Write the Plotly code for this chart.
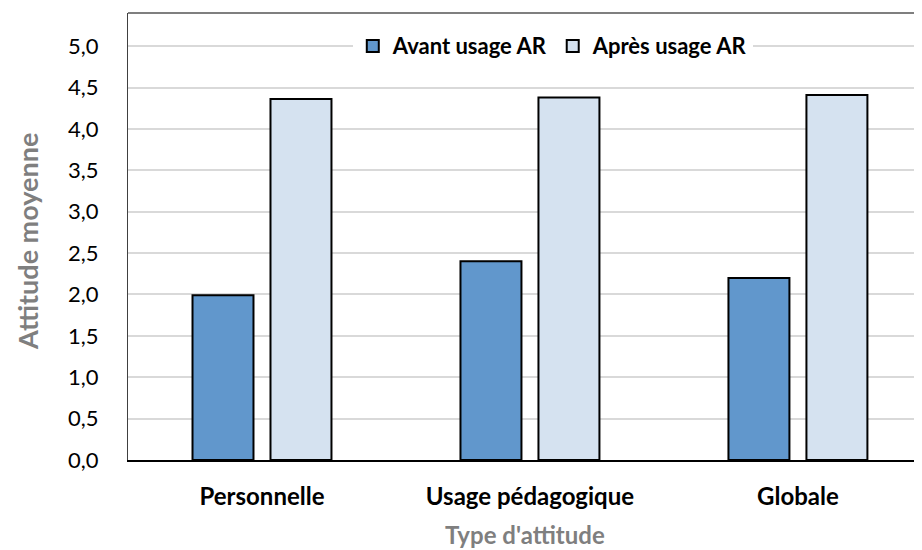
import plotly.graph_objects as go

categories = ["Personnelle", "Usage pédagogique", "Globale"]
avant = [1.99, 2.40, 2.20]
apres = [4.36, 4.38, 4.41]
series_names = ["Avant usage AR", "Après usage AR"]
y_ticks = [0, 0.5, 1, 1.5, 2, 2.5, 3, 3.5, 4, 4.5, 5]

FONT = "Lato"

fig = go.Figure()
fig.add_trace(go.Bar(x=categories, y=avant, name=series_names[0],
                     marker=dict(color="#6197CC", line=dict(color="#000000", width=2))))
fig.add_trace(go.Bar(x=categories, y=apres, name=series_names[1],
                     marker=dict(color="#D5E2F0", line=dict(color="#000000", width=2))))

fig.update_layout(
    width=914, height=542,
    margin=dict(l=120, r=0, t=5, b=90),
    paper_bgcolor="white", plot_bgcolor="white",
    separators=", ",
    barmode="group", bargap=0.418, bargroupgap=0.218,
    font=dict(family=FONT, size=22, color="#000000"),
    showlegend=True,
    legend=dict(orientation="h", x=0.535, xanchor="center", y=0.926, yanchor="middle",
                bgcolor="white", font=dict(family=FONT, size=22, color="#000000", weight="bold"),
                traceorder="normal", itemwidth=30),
    xaxis=dict(range=[-0.5, 2.463], showgrid=False, showline=True, linecolor="#000000",
               linewidth=2, ticks="", tickfont=dict(family=FONT, size=24, weight="bold"),
               ticklabelstandoff=14),
    yaxis=dict(range=[0, 5.4], tickvals=y_ticks, tickformat=".1f", showgrid=True,
               gridcolor="#D9D9D9", gridwidth=1.5, showline=True, linecolor="#404040",
               linewidth=1, ticks="", zeroline=False, ticklabelstandoff=24,
               tickfont=dict(family=FONT, size=22)),
    shapes=[dict(type="line", xref="paper", yref="paper", x0=0, x1=1, y0=1, y1=1,
                 line=dict(color="#7F7F7F", width=2))],
    annotations=[
        dict(text="<b>Attitude moyenne</b>", xref="paper", yref="paper", x=-0.126, y=0.49,
             textangle=-90, showarrow=False, font=dict(family=FONT, size=27, color="#7F7F7F"),
             xanchor="center", yanchor="middle"),
        dict(text="<b>Type d'attitude</b>", xref="paper", yref="paper", x=0.5, y=-0.166,
             showarrow=False, font=dict(family=FONT, size=24, color="#7F7F7F"),
             xanchor="center", yanchor="middle"),
    ],
)

fig.write_html("out.html")
